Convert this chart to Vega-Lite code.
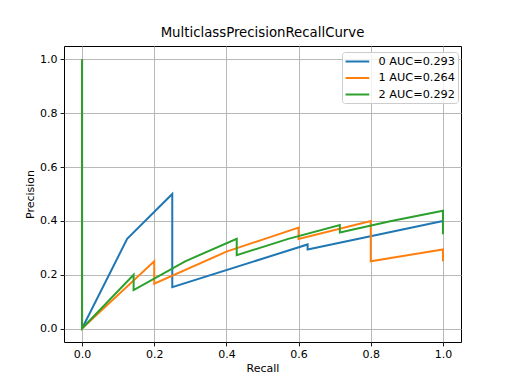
{
  "$schema": "https://vega.github.io/schema/vega-lite/v6.json",
  "width": 397,
  "height": 296,
  "autosize": {"type": "none"},
  "padding": {"left": 64, "top": 46, "right": 51, "bottom": 42},
  "background": "white",
  "title": {"text": "MulticlassPrecisionRecallCurve", "fontSize": 13.3, "fontWeight": "normal", "font": "DejaVu Sans", "color": "black", "offset": 7, "anchor": "middle"},
  "config": {
    "font": "DejaVu Sans",
    "view": {"stroke": "black", "strokeWidth": 1},
    "axis": {
      "domain": false,
      "grid": true,
      "gridColor": "#b0b0b0",
      "gridWidth": 0.9,
      "tickColor": "black",
      "tickSize": 3.9,
      "tickWidth": 0.9,
      "labelFontSize": 11,
      "labelColor": "black",
      "labelPadding": 3,
      "titleFontSize": 11,
      "titleFontWeight": "normal",
      "titleColor": "black"
    }
  },
  "data": {
    "values": [
      {"cls": "0 AUC=0.293", "i": 0, "recall": 1.0, "precision": 0.4},
      {"cls": "0 AUC=0.293", "i": 1, "recall": 0.625, "precision": 0.2941},
      {"cls": "0 AUC=0.293", "i": 2, "recall": 0.625, "precision": 0.3125},
      {"cls": "0 AUC=0.293", "i": 3, "recall": 0.25, "precision": 0.1538},
      {"cls": "0 AUC=0.293", "i": 4, "recall": 0.25, "precision": 0.5},
      {"cls": "0 AUC=0.293", "i": 5, "recall": 0.125, "precision": 0.3333},
      {"cls": "0 AUC=0.293", "i": 6, "recall": 0.0, "precision": 0.0},
      {"cls": "0 AUC=0.293", "i": 7, "recall": 0.0, "precision": 1.0},
      {"cls": "1 AUC=0.264", "i": 0, "recall": 1.0, "precision": 0.25},
      {"cls": "1 AUC=0.264", "i": 1, "recall": 1.0, "precision": 0.2941},
      {"cls": "1 AUC=0.264", "i": 2, "recall": 0.8, "precision": 0.25},
      {"cls": "1 AUC=0.264", "i": 3, "recall": 0.8, "precision": 0.4},
      {"cls": "1 AUC=0.264", "i": 4, "recall": 0.6, "precision": 0.3333},
      {"cls": "1 AUC=0.264", "i": 5, "recall": 0.6, "precision": 0.375},
      {"cls": "1 AUC=0.264", "i": 6, "recall": 0.4, "precision": 0.2857},
      {"cls": "1 AUC=0.264", "i": 7, "recall": 0.2, "precision": 0.1667},
      {"cls": "1 AUC=0.264", "i": 8, "recall": 0.2, "precision": 0.25},
      {"cls": "1 AUC=0.264", "i": 9, "recall": 0.0, "precision": 0.0},
      {"cls": "1 AUC=0.264", "i": 10, "recall": 0.0, "precision": 1.0},
      {"cls": "2 AUC=0.292", "i": 0, "recall": 1.0, "precision": 0.35},
      {"cls": "2 AUC=0.292", "i": 1, "recall": 1.0, "precision": 0.4375},
      {"cls": "2 AUC=0.292", "i": 2, "recall": 0.8571, "precision": 0.4},
      {"cls": "2 AUC=0.292", "i": 3, "recall": 0.7143, "precision": 0.3571},
      {"cls": "2 AUC=0.292", "i": 4, "recall": 0.7143, "precision": 0.3846},
      {"cls": "2 AUC=0.292", "i": 5, "recall": 0.5714, "precision": 0.3333},
      {"cls": "2 AUC=0.292", "i": 6, "recall": 0.4286, "precision": 0.2727},
      {"cls": "2 AUC=0.292", "i": 7, "recall": 0.4286, "precision": 0.3333},
      {"cls": "2 AUC=0.292", "i": 8, "recall": 0.2857, "precision": 0.25},
      {"cls": "2 AUC=0.292", "i": 9, "recall": 0.1429, "precision": 0.1429},
      {"cls": "2 AUC=0.292", "i": 10, "recall": 0.1429, "precision": 0.2},
      {"cls": "2 AUC=0.292", "i": 11, "recall": 0.0, "precision": 0.0},
      {"cls": "2 AUC=0.292", "i": 12, "recall": 0.0, "precision": 1.0}
    ]
  },
  "mark": {"type": "line", "strokeWidth": 2, "clip": true},
  "encoding": {
    "x": {
      "field": "recall", "type": "quantitative", "title": "Recall",
      "scale": {"domain": [-0.05, 1.05], "nice": false, "zero": false},
      "axis": {"values": [0, 0.2, 0.4, 0.6, 0.8, 1.0], "format": ".1f", "titlePadding": 3}
    },
    "y": {
      "field": "precision", "type": "quantitative", "title": "Precision",
      "scale": {"domain": [-0.05, 1.05], "nice": false, "zero": false},
      "axis": {"values": [0, 0.2, 0.4, 0.6, 0.8, 1.0], "format": ".1f", "titlePadding": 4}
    },
    "color": {
      "field": "cls", "type": "nominal",
      "scale": {"domain": ["0 AUC=0.293", "1 AUC=0.264", "2 AUC=0.292"], "range": ["#1f77b4", "#ff7f0e", "#2ca02c"]},
      "legend": {
        "title": null,
        "orient": "none",
        "legendX": 278,
        "legendY": 6,
        "symbolType": "M-1,0L3,0",
        "symbolSize": 140,
        "symbolStrokeWidth": 2,
        "labelFontSize": 11.3,
        "labelColor": "black",
        "labelOffset": 20,
        "rowPadding": 3.5,
        "padding": 2.5,
        "fillColor": "rgba(255,255,255,0.8)",
        "strokeColor": "#cccccc",
        "cornerRadius": 3
      }
    },
    "order": {"field": "i", "type": "quantitative"}
  }
}
